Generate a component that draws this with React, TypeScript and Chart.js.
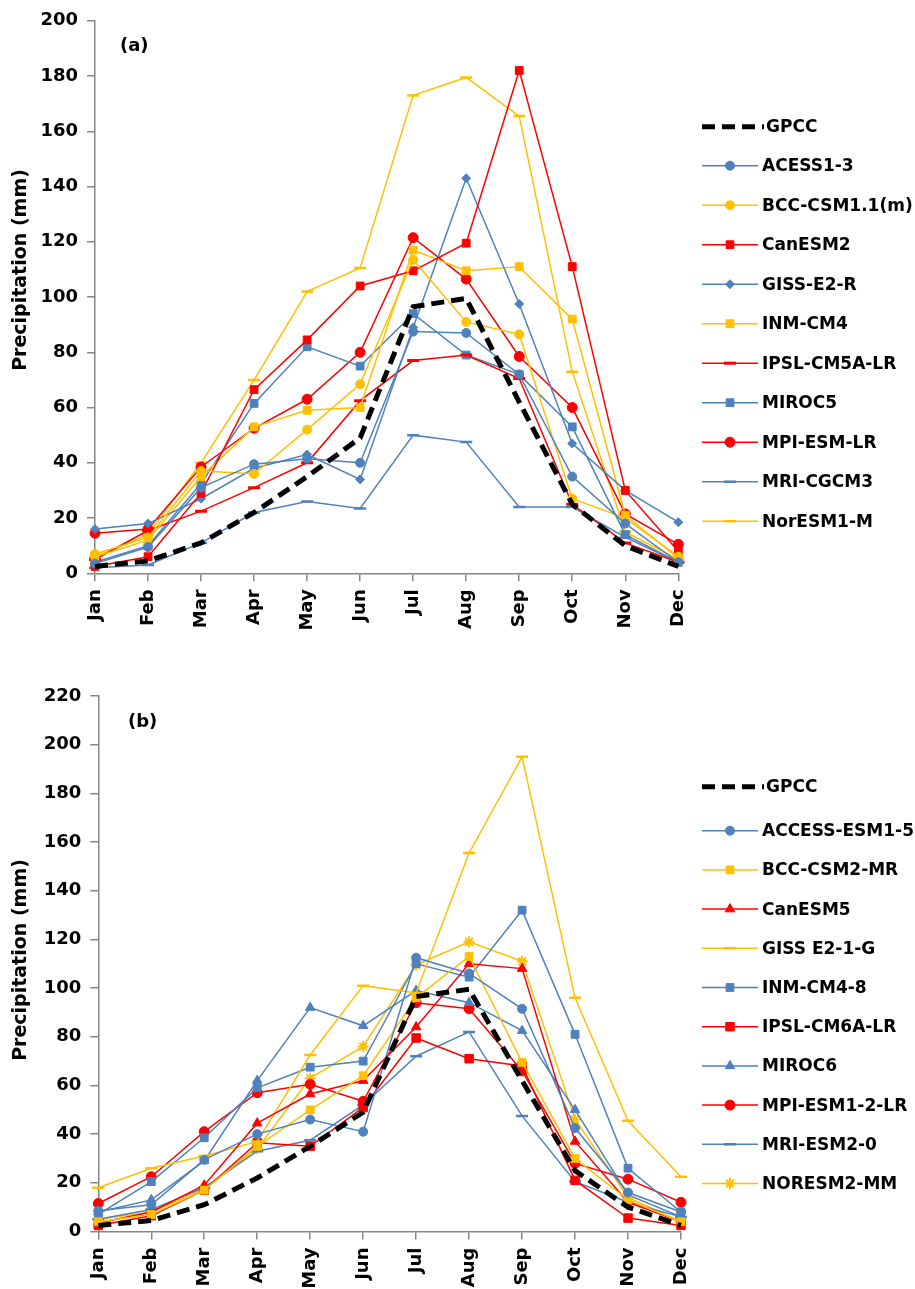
import React, { useEffect, useRef } from "react";
import { Chart, registerables } from "chart.js";
import { drawPoint } from "chart.js/helpers";

Chart.register(...registerables);

const months = ["Jan", "Feb", "Mar", "Apr", "May", "Jun", "Jul", "Aug", "Sep", "Oct", "Nov", "Dec"];
const yTicksA = [0, 200, 20];
const yTicksB = [0, 220, 20];

// Panel (a) – CMIP5
const gpcc = [2.5, 4.5, 11, 22, 35, 49, 96.5, 99.5, 62, 25, 10, 2.5];
const acess13 = [3.5, 9.5, 31, 39.5, 41.5, 40, 87.5, 87, 72, 35, 18, 4];
const bccCsm11m = [7, 13, 37, 36, 52, 68.5, 113.5, 91, 86.5, 27, 20, 6];
const canEsm2 = [2.5, 6, 29, 66.5, 84.5, 104, 109.5, 119.5, 182, 111, 30, 8];
const gissE2R = [16, 18, 27, 38, 43, 34, 89, 143, 97.5, 47, 30, 18.5];
const inmCm4 = [6, 12, 35, 53, 59, 60, 117, 109.5, 111, 92, 21, 5.5];
const ipslCm5aLr = [5, 15.5, 22.5, 31, 40, 62.5, 77, 79, 70.5, 25, 11, 4];
const miroc5 = [4, 10, 32.5, 61.5, 82, 75, 94, 79, 72, 53, 14, 4];
const mpiEsmLr = [14.5, 16, 38.5, 52.5, 63, 80, 121.5, 106.5, 78.5, 60, 21.5, 10.5];
const mriCgcm3 = [2, 3, 11, 22, 26, 23.5, 50, 47.5, 24, 24, 13, 4];
const norEsm1M = [6, 14, 40, 70, 102, 110.5, 173, 179.5, 165.5, 73, 15, 5];

// Panel (b) – CMIP6
const accessEsm15 = [8.5, 11, 29.5, 40, 46, 41, 112.5, 106, 91.5, 42.5, 16, 8];
const bccCsm2Mr = [4, 7, 17, 35, 50, 64, 96, 113, 69.5, 30, 13, 4];
const canEsm5 = [3.5, 8, 19, 44.5, 56.5, 62, 84, 110, 108, 37, 12, 4];
const gissE21G = [18, 26, 31, 37, 72.5, 101, 98, 155.5, 195, 96, 45.5, 22.5];
const inmCm48 = [7, 20.5, 38.5, 59, 67.5, 70, 110, 104.5, 132, 81, 26, 8];
const ipslCm6aLr = [2.5, 6.5, 17, 36.5, 35, 51, 79.5, 71, 68, 21, 5.5, 2.5];
const miroc6 = [8, 13, 29, 62, 92, 84.5, 99, 94, 82.5, 50, 15, 6];
const mpiEsm12Lr = [11.5, 22.5, 41, 57, 60.5, 53.5, 94, 91.5, 66, 28, 21.5, 12];
const mriEsm20 = [5, 9, 18, 33, 37.5, 52, 72, 82, 47.5, 20.5, 12, 6];
const norEsm2Mm = [5, 8, 17.5, 34, 63, 76, 109.5, 119, 111, 46, 14, 4];

const BLUE = "#4F81BD";
const RED = "#FF0000";
const YEL = "#FFC000";
const FONT = "DejaVu Sans";
const Y_TITLE = "Precipitation (mm)";

type S = { label: string; data: number[]; color: string; style: any; radius: number; pbw?: number };

const seriesA: S[] = [
  { label: "ACESS1-3", data: acess13, color: BLUE, style: "circle", radius: 4.5 },
  { label: "BCC-CSM1.1(m)", data: bccCsm11m, color: YEL, style: "circle", radius: 4.5 },
  { label: "CanESM2", data: canEsm2, color: RED, style: "rect", radius: 5.5 },
  { label: "GISS-E2-R", data: gissE2R, color: BLUE, style: "rectRot", radius: 4.5 },
  { label: "INM-CM4", data: inmCm4, color: YEL, style: "rect", radius: 5.5 },
  { label: "IPSL-CM5A-LR", data: ipslCm5aLr, color: RED, style: "line", radius: 6, pbw: 3 },
  { label: "MIROC5", data: miroc5, color: BLUE, style: "rect", radius: 5.5 },
  { label: "MPI-ESM-LR", data: mpiEsmLr, color: RED, style: "circle", radius: 5 },
  { label: "MRI-CGCM3", data: mriCgcm3, color: BLUE, style: "line", radius: 6, pbw: 2.5 },
  { label: "NorESM1-M", data: norEsm1M, color: YEL, style: "line", radius: 6, pbw: 2.5 },
];

const seriesB: S[] = [
  { label: "ACCESS-ESM1-5", data: accessEsm15, color: BLUE, style: "circle", radius: 4.5 },
  { label: "BCC-CSM2-MR", data: bccCsm2Mr, color: YEL, style: "rect", radius: 5.5 },
  { label: "CanESM5", data: canEsm5, color: RED, style: "triangle", radius: 5.5 },
  { label: "GISS E2-1-G", data: gissE21G, color: YEL, style: "line", radius: 6, pbw: 2.5 },
  { label: "INM-CM4-8", data: inmCm48, color: BLUE, style: "rect", radius: 5.5 },
  { label: "IPSL-CM6A-LR", data: ipslCm6aLr, color: RED, style: "rect", radius: 6 },
  { label: "MIROC6", data: miroc6, color: BLUE, style: "triangle", radius: 5.5 },
  { label: "MPI-ESM1-2-LR", data: mpiEsm12Lr, color: RED, style: "circle", radius: 5 },
  { label: "MRI-ESM2-0", data: mriEsm20, color: BLUE, style: "line", radius: 6, pbw: 2.5 },
  { label: "NORESM2-MM", data: norEsm2Mm, color: YEL, style: "star", radius: 5.5, pbw: 2 },
];

function buildDatasets(series: S[]) {
  const gp = {
    label: "GPCC",
    data: gpcc,
    borderColor: "#000000",
    backgroundColor: "#000000",
    borderWidth: 5,
    borderDash: [13, 7],
    pointRadius: 0,
    pointHoverRadius: 0,
    order: 0,
  };
  const rest = series.map((s, i) => ({
    label: s.label,
    data: s.data,
    borderColor: s.color,
    backgroundColor: s.color,
    borderWidth: 1.5,
    pointStyle: s.style,
    pointRadius: s.radius,
    pointBorderWidth: s.pbw ?? 1,
    pointBorderColor: s.color,
    pointBackgroundColor: s.color,
    order: 1 + i,
  }));
  return [gp, ...rest];
}

type Layout = {
  width: number;
  height: number;
  left: number;
  right: number;
  top: number;
  bottom: number;
  yMin: number;
  yMax: number;
  step: number;
  panel: string;
  panelX: number;
  panelY: number;
  titleX: number;
  titleY: number;
  legendFirstY: number;
  legendY0: number;
  legendStep: number;
};

const legendPlugin = {
  id: "customLegend",
  afterDraw(chart: any) {
    const o = chart.options.plugins.customLegend;
    if (!o) return;
    const ctx = chart.ctx;
    ctx.save();
    // panel label
    ctx.font = `bold 18px "${FONT}"`;
    ctx.fillStyle = "#000";
    ctx.textAlign = "left";
    ctx.textBaseline = "middle";
    ctx.fillText(o.panel, o.panelX, o.panelY);

    // y-axis title
    ctx.save();
    ctx.translate(o.titleX, o.titleY);
    ctx.rotate(-Math.PI / 2);
    ctx.font = `bold 19px "${FONT}"`;
    ctx.textAlign = "center";
    ctx.textBaseline = "middle";
    ctx.fillText(Y_TITLE, 0, 0);
    ctx.restore();

    const x0 = 702;
    const x1 = 758;
    chart.data.datasets.forEach((ds: any, i: number) => {
      const y = i === 0 ? o.legendFirstY : o.legendY0 + (i - 1) * o.legendStep;
      ctx.save();
      ctx.strokeStyle = ds.borderColor;
      ctx.lineWidth = ds.borderWidth;
      if (ds.borderDash) ctx.setLineDash(ds.borderDash);
      ctx.beginPath();
      ctx.moveTo(x0, y);
      ctx.lineTo(i === 0 ? 764 : x1, y);
      ctx.stroke();
      ctx.restore();
      if (i > 0) {
        ctx.save();
        ctx.strokeStyle = ds.pointBorderColor;
        ctx.fillStyle = ds.pointBackgroundColor;
        ctx.lineWidth = ds.pointBorderWidth;
        drawPoint(ctx, { pointStyle: ds.pointStyle, radius: ds.pointRadius, rotation: 0, borderWidth: ds.pointBorderWidth }, (x0 + x1) / 2, y);
        ctx.restore();
      }
      ctx.font = `bold 17px "${FONT}"`;
      ctx.fillStyle = "#000";
      ctx.textAlign = "left";
      ctx.textBaseline = "middle";
      ctx.fillText(ds.label, i === 0 ? 766 : 762, y + 1);
    });
    ctx.restore();
  },
};

function LineChart({ series, layout, top }: { series: S[]; layout: Layout; top: number }) {
  const ref = useRef<HTMLCanvasElement | null>(null);
  useEffect(() => {
    if (!ref.current) return;
    const L = layout;
    const axisColor = "#868686";
    const chart = new Chart(ref.current, {
      type: "line",
      data: { labels: months, datasets: buildDatasets(series) as any },
      options: {
        responsive: false,
        animation: false,
        events: [],
        layout: { padding: { top: L.top, right: L.width - L.right, left: 0, bottom: 0 } },
        plugins: {
          legend: { display: false },
          tooltip: { enabled: false },
          customLegend: {
            panel: L.panel,
            panelX: L.panelX,
            panelY: L.panelY,
            titleX: L.titleX,
            titleY: L.titleY,
            legendFirstY: L.legendFirstY,
            legendY0: L.legendY0,
            legendStep: L.legendStep,
          },
        } as any,
        scales: {
          x: {
            type: "category",
            offset: false,
            afterFit(scale: any) {
              scale.height = L.height - L.bottom;
            },
            grid: { display: true, drawOnChartArea: false, drawTicks: true, tickLength: 8, color: axisColor, lineWidth: 1.5 },
            border: { display: true, color: axisColor, width: 1.5 },
            ticks: {
              autoSkip: false,
              minRotation: 90,
              maxRotation: 90,
              padding: 8,
              color: "#000",
              font: { family: FONT, size: 18, weight: "bold" },
            },
          },
          y: {
            min: L.yMin,
            max: L.yMax,
            afterFit(scale: any) {
              scale.width = L.left;
            },
            grid: { display: true, drawOnChartArea: false, drawTicks: true, tickLength: 8, color: axisColor, lineWidth: 1.5 },
            border: { display: true, color: axisColor, width: 1.5 },
            ticks: {
              stepSize: L.step,
              padding: 9,
              color: "#000",
              font: { family: FONT, size: 18, weight: "bold" },
            },
            title: { display: false },
          },
        },
      },
      plugins: [legendPlugin],
    });
    return () => chart.destroy();
  }, []);
  return (
    <canvas
      ref={ref}
      width={layout.width}
      height={layout.height}
      style={{ position: "absolute", left: 0, top, width: layout.width, height: layout.height }}
    />
  );
}

const layoutA: Layout = {
  width: 915,
  height: 640,
  left: 95,
  right: 678.3,
  top: 20.8,
  bottom: 573.3,
  yMin: yTicksA[0],
  yMax: yTicksA[1],
  step: yTicksA[2],
  panel: "(a)",
  panelX: 120,
  panelY: 46,
  titleX: 21,
  titleY: 270,
  legendFirstY: 126.7,
  legendY0: 165.7,
  legendStep: 39.5,
};

const layoutB: Layout = {
  width: 915,
  height: 649,
  left: 98.3,
  right: 681,
  top: 56,
  bottom: 591.5,
  yMin: yTicksB[0],
  yMax: yTicksB[1],
  step: yTicksB[2],
  panel: "(b)",
  panelX: 128,
  panelY: 82,
  titleX: 21,
  titleY: 320,
  legendFirstY: 146.7,
  legendY0: 190.7,
  legendStep: 39.2,
};

export default function App() {
  return (
    <div style={{ position: "absolute", left: 0, top: 0, width: 915, height: 1289, background: "#fff", overflow: "hidden" }}>
      <LineChart series={seriesA} layout={layoutA} top={0} />
      <LineChart series={seriesB} layout={layoutB} top={640} />
    </div>
  );
}
